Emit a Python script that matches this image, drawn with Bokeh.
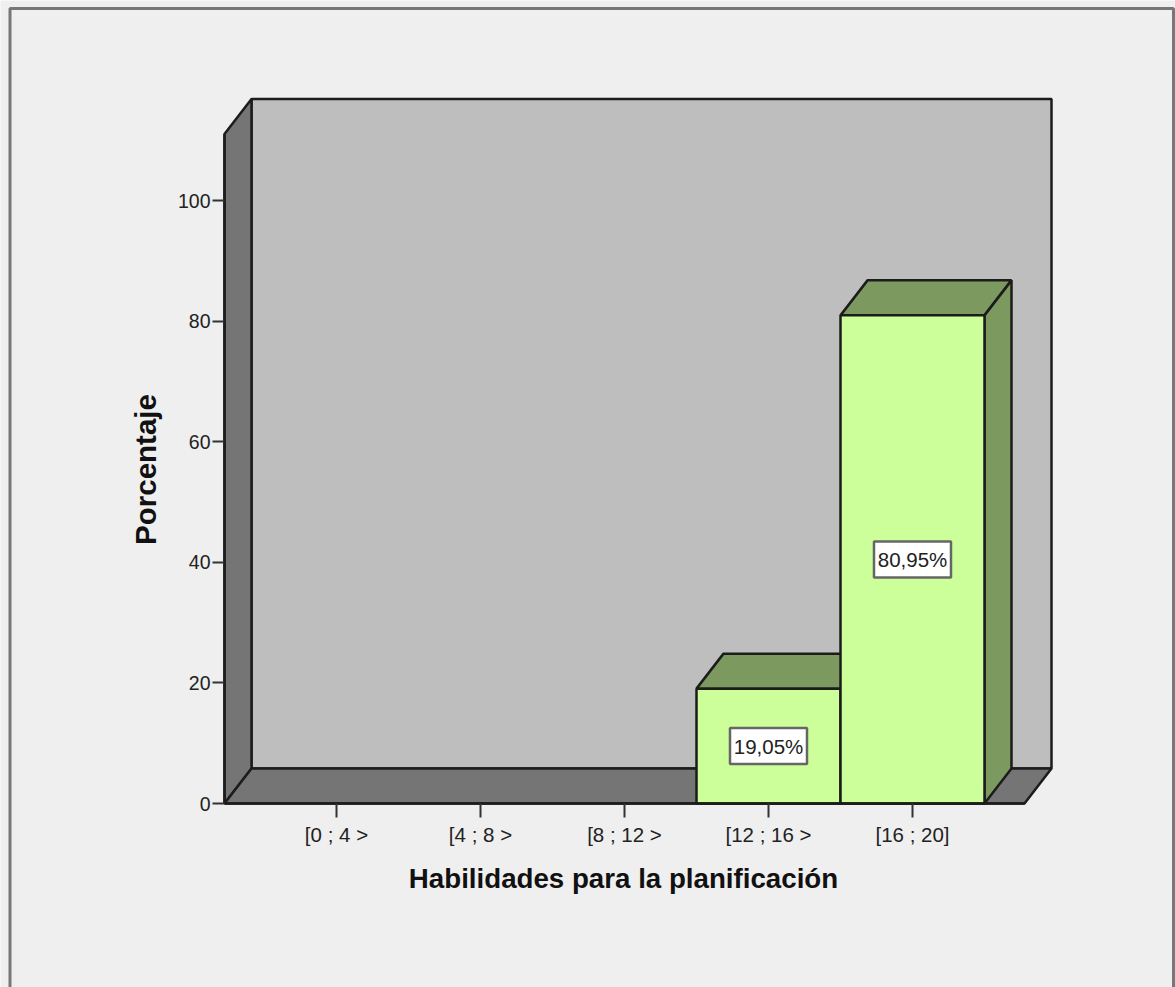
from bokeh.plotting import figure
from bokeh.models import ColumnDataSource, FixedTicker, Range1d
from bokeh.core.properties import value
from bokeh.embed import file_html
from bokeh.resources import INLINE

categories = ["[0 ; 4 >", "[4 ; 8 >", "[8 ; 12 >", "[12 ; 16 >", "[16 ; 20]"]
percentages = [0.0, 0.0, 0.0, 19.05, 80.95]
bar_labels = ["", "", "", "19,05%", "80,95%"]
y_ticks = [0, 20, 40, 60, 80, 100]
x_title = "Habilidades para la planificación"
y_title = "Porcentaje"

W, H = 1175, 987
X_UNIT, Y_UNIT = 144.0, 6.03     # pixels per axis unit
X0_PX, Y0_PX = 336.0, 803.0      # pixel of first category / of zero
FONT = "Liberation Sans"
EDGE = "#1c1c1c"
DX, DY = 27 / X_UNIT, 35 / Y_UNIT
XL, XR = (224 - X0_PX) / X_UNIT, (1024 - X0_PX) / X_UNIT
YT = (Y0_PX - 133.5) / Y_UNIT


def px(v):
    return (v - X0_PX) / X_UNIT


def py(v):
    return (Y0_PX - v) / Y_UNIT


p = figure(width=W, height=H, output_backend="svg", toolbar_location=None,
           x_range=Range1d(px(0), px(W)), y_range=Range1d(py(H), py(0)),
           min_border_left=0, min_border_right=0, min_border_top=0, min_border_bottom=0,
           background_fill_color="#efefef", border_fill_color="#efefef")
p.outline_line_color = None
p.grid.visible = False

# outer frame, open at the bottom
p.line([px(9.5), px(9.5), px(1173), px(1173)], [py(H + 5), py(8), py(8), py(H + 5)],
       line_color="#777777", line_width=3)

# 3-D box: back wall, side wall, floor
p.patch([XL + DX, XR + DX, XR + DX, XL + DX], [DY, DY, YT + DY, YT + DY],
        fill_color="#bebebe", line_color=EDGE, line_width=2.5)
p.patch([XL, XL + DX, XL + DX, XL], [0, DY, YT + DY, YT],
        fill_color="#757575", line_color=EDGE, line_width=2.5)
p.patch([XL, XR, XR + DX, XL + DX], [0, 0, DY, DY],
        fill_color="#757575", line_color=EDGE, line_width=2.5)

# bars
for i, v in enumerate(percentages):
    if v <= 0:
        continue
    l, r = i - 0.5, i + 0.5
    p.patch([l, r, r + DX, l + DX], [v, v, v + DY, v + DY],
            fill_color="#7c9a5f", line_color=EDGE, line_width=2.5)
    p.patch([r, r + DX, r + DX, r], [0, DY, v + DY, v],
            fill_color="#7c9a5f", line_color=EDGE, line_width=2.5)
    p.patch([l, r, r, l], [0, 0, v, v],
            fill_color="#ccff99", line_color=EDGE, line_width=2.5)

# value labels
xs = [i for i, v in enumerate(percentages) if v > 0]
src = ColumnDataSource(dict(
    x=xs,
    y=[percentages[i] / 2 for i in xs],
    t=[bar_labels[i] for i in xs],
))
p.rect("x", "y", width=77, height=36, width_units="screen", height_units="screen", source=src,
       fill_color="#ffffff", line_color="#666666", line_width=2.5)
p.text("x", "y", text="t", source=src, text_font=value(FONT), text_font_size="20.5px",
       text_color="#222222", text_align="center", text_baseline="middle")

# axes
xa = p.xaxis[0]
xa.fixed_location = 0
xa.ticker = FixedTicker(ticks=list(range(len(categories))))
xa.major_label_overrides = {i: c for i, c in enumerate(categories)}
xa.bounds = (XL, XR)
ya = p.yaxis[0]
ya.fixed_location = XL
ya.ticker = FixedTicker(ticks=y_ticks)
ya.bounds = (0, YT)
for a in (xa, ya):
    a.axis_line_color = EDGE
    a.axis_line_width = 2.5
    a.major_tick_line_color = "#333333"
    a.major_tick_line_width = 2
    a.major_tick_in = 0
    a.minor_tick_line_color = None
    a.major_label_text_font = FONT
    a.major_label_text_color = "#222222"
xa.major_tick_out = 14
xa.major_label_text_font_size = "20.5px"
xa.major_label_standoff = 5
ya.major_tick_out = 12
ya.major_label_text_font_size = "19.5px"
ya.major_label_standoff = 2

# axis titles, centred on the front plane of the box
p.text([px(623)], [py(878)], text=[x_title], text_font=value(FONT), text_font_size="27.7px",
       text_font_style="bold", text_color="#111111", text_align="center", text_baseline="middle")
p.text([px(145)], [py(469)], text=[y_title], text_font=value(FONT), text_font_size="29.5px",
       text_font_style="bold", text_color="#111111", angle=90, angle_units="deg",
       text_align="center", text_baseline="middle")

open("out.html", "w").write(file_html(p, INLINE))
